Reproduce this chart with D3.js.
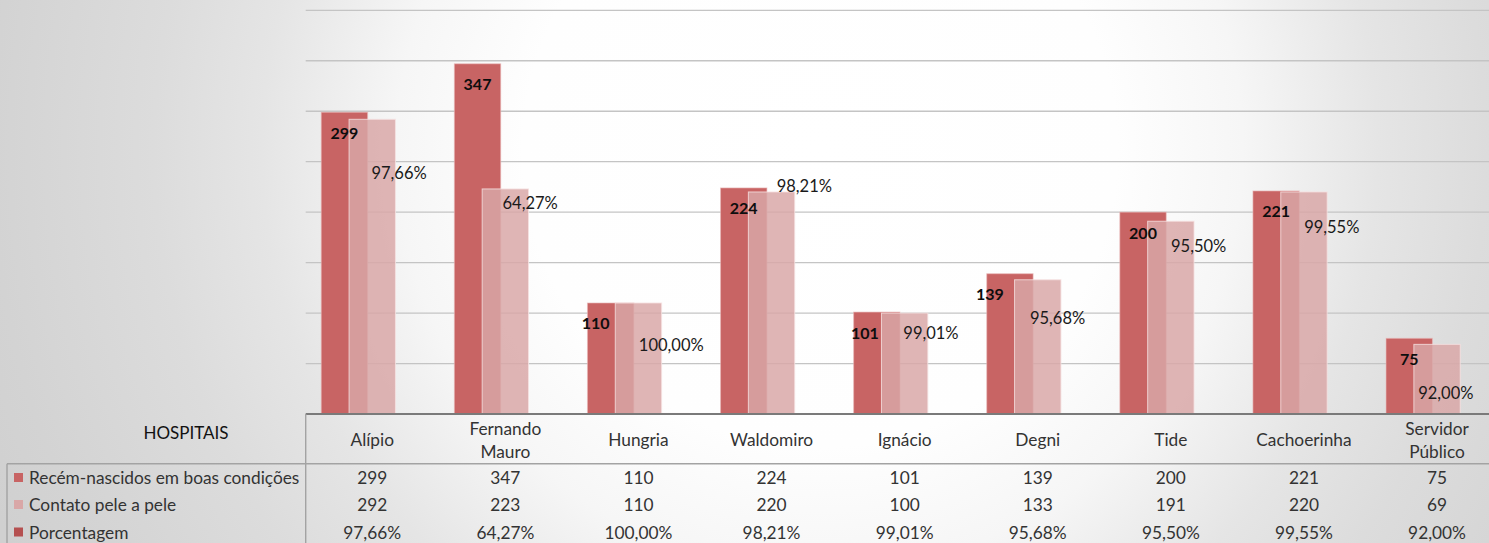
<!DOCTYPE html>
<html>
<head>
<meta charset="utf-8">
<script src="https://cdn.jsdelivr.net/npm/d3@7"></script>
<style>
  html, body { margin: 0; padding: 0; overflow: hidden; }
  svg { display: block; }
  text { font-family: Lato, "Open Sans", sans-serif; }
</style>
</head>
<body>
<svg id="chart" width="1489" height="543"></svg>
<script>
// ---------------- DATA ----------------
const categories = ["Alípio", "Fernando Mauro", "Hungria", "Waldomiro", "Ignácio", "Degni", "Tide", "Cachoerinha", "Servidor Público"];
const recemNascidos = [299, 347, 110, 224, 101, 139, 200, 221, 75];
const contatoPele = [292, 223, 110, 220, 100, 133, 191, 220, 69];
const porcentagem = [97.66, 64.27, 100.00, 98.21, 99.01, 95.68, 95.50, 99.55, 92.00];
const seriesNames = ["Recém-nascidos em boas condições", "Contato pele a pele", "Porcentagem"];
const yTicks = [0, 50, 100, 150, 200, 250, 300, 350, 400];
const tableTitle = "HOSPITAIS";

// ---------------- LAYOUT / STYLE ----------------
const W = 1489, H = 543;
const plotLeft = 305.7, catStep = 133.1;
const plotRight = plotLeft + catStep * categories.length;
const baseY = 414, topY = 10.3;
const gapWidth = 0.67, overlap = 0.40;
const colors = ["#c86464", "#d9a7a7", "#b55050"];
const tableFont = 17.3, labelFont = 16.5;
// manual label nudges (pixels), as in the original chart
const darkLabelDx = [0, 0, -15, 0, -12, -20, 0, 0, 0];
const pctLabelDx = [-1, -3, 5, 5, -1.5, -8, 0, 0, -19];
const pctLabelRise = [241, 211, 69, 228, 81, 96, 168, 187, 21];
const rowY = [477.5, 504.5, 532];

const svg = d3.select("#chart");
const defs = svg.append("defs");
const grad = defs.append("radialGradient")
  .attr("id", "bg").attr("gradientUnits", "userSpaceOnUse")
  .attr("cx", 820).attr("cy", 150).attr("r", 900);
[[0, "#ffffff"], [0.33, "#fefefe"], [0.47, "#f6f6f6"], [0.62, "#e5e5e5"], [0.74, "#dcdcdc"], [0.92, "#d3d3d3"], [1, "#d0d0d0"]]
  .forEach(([o, c]) => grad.append("stop").attr("offset", o).attr("stop-color", c));
svg.append("rect").attr("width", W).attr("height", H).attr("fill", "url(#bg)");

const x = d3.scaleBand().domain(categories).range([plotLeft, plotRight]).padding(0);
const y = d3.scaleLinear().domain([0, 400]).range([baseY, topY]);

// bar geometry from Excel-like gap width / overlap
const nSeries = 3;
const barW = catStep / (nSeries - (nSeries - 1) * overlap + gapWidth);
const barStep = barW * (1 - overlap);
const groupW = barW + (nSeries - 1) * barStep;
const sub = d3.scaleLinear().domain([0, nSeries - 1]).range([0, (nSeries - 1) * barStep]);
const barX = (cat, s) => x(cat) + (catStep - groupW) / 2 + sub(s);

// gridlines
svg.append("g").selectAll("line").data(yTicks.filter(t => t > 0)).join("line")
  .attr("x1", plotLeft).attr("x2", W)
  .attr("y1", d => y(d)).attr("y2", d => y(d))
  .attr("stroke", "#c4c4c4").attr("stroke-width", 1.3);

const seriesVals = [recemNascidos, contatoPele, porcentagem.map(p => p / 100)];
const barsG = svg.append("g");
// percentage series (tiny bars at the baseline)
barsG.selectAll("rect.p").data(categories).join("rect").attr("class", "p")
  .attr("x", (d) => barX(d, 2)).attr("width", barW)
  .attr("y", (d, i) => y(seriesVals[2][i])).attr("height", (d, i) => baseY - y(seriesVals[2][i]))
  .attr("fill", colors[2]);
// dark series
barsG.selectAll("rect.a").data(categories).join("rect").attr("class", "a")
  .attr("x", d => barX(d, 0)).attr("width", barW)
  .attr("y", (d, i) => y(recemNascidos[i])).attr("height", (d, i) => baseY - y(recemNascidos[i]))
  .attr("fill", colors[0]).attr("stroke", "#eab9b9").attr("stroke-opacity", 0.6).attr("stroke-width", 1);
// light series (semi-transparent, overlapping)
barsG.selectAll("rect.b").data(categories).join("rect").attr("class", "b")
  .attr("x", d => barX(d, 1)).attr("width", barW)
  .attr("y", (d, i) => y(contatoPele[i])).attr("height", (d, i) => baseY - y(contatoPele[i]))
  .attr("fill", colors[1]).attr("fill-opacity", 0.84)
  .attr("stroke", "#f6e2e2").attr("stroke-opacity", 0.8).attr("stroke-width", 1);

// data labels
const fmtPct = v => d3.format(".2f")(v).replace(".", ",") + "%";
svg.append("g").selectAll("text").data(categories).join("text")
  .attr("x", (d, i) => barX(d, 0) + barW / 2 + darkLabelDx[i])
  .attr("y", (d, i) => y(recemNascidos[i]) + 20)
  .attr("text-anchor", "middle").attr("dominant-baseline", "central")
  .attr("font-size", 16).attr("font-weight", "bold").attr("fill", "#0d0d0d")
  .text((d, i) => recemNascidos[i]);
svg.append("g").selectAll("text").data(categories).join("text")
  .attr("x", (d, i) => barX(d, 2) + barW / 2 + pctLabelDx[i])
  .attr("y", (d, i) => baseY - pctLabelRise[i])
  .attr("text-anchor", "middle").attr("dominant-baseline", "central")
  .attr("font-size", labelFont).attr("fill", "#1a1a1a")
  .text((d, i) => fmtPct(porcentagem[i]));

// axis line & table lines
svg.append("line").attr("x1", plotLeft).attr("x2", W).attr("y1", baseY).attr("y2", baseY)
  .attr("stroke", "#7a7a7a").attr("stroke-width", 2);
const tl = svg.append("g").attr("stroke", "#a3a3a3").attr("stroke-width", 1.4);
tl.append("line").attr("x1", plotLeft).attr("x2", plotLeft).attr("y1", baseY).attr("y2", H);
tl.append("line").attr("x1", 7).attr("x2", W).attr("y1", 463.8).attr("y2", 463.8);
tl.append("line").attr("x1", 7).attr("x2", 7).attr("y1", 463.8).attr("y2", H);

// header
const textCol = "#333333";
svg.append("text").attr("x", 186).attr("y", 432).attr("text-anchor", "middle")
  .attr("dominant-baseline", "central").attr("font-size", 17).attr("fill", "#111").text(tableTitle);
const hdr = svg.append("g").selectAll("text").data(categories).join("text")
  .attr("text-anchor", "middle").attr("font-size", tableFont).attr("fill", textCol)
  .attr("dominant-baseline", "central");
hdr.each(function (d) {
  const words = d.split(" ");
  const cx = x(d) + catStep / 2;
  const t = d3.select(this);
  if (words.length === 1) {
    t.append("tspan").attr("x", cx).attr("y", 439).text(d);
  } else {
    t.append("tspan").attr("x", cx).attr("y", 428).text(words[0]);
    t.append("tspan").attr("x", cx).attr("y", 450.5).text(words.slice(1).join(" "));
  }
});

// table rows
const rows = [recemNascidos.map(String), contatoPele.map(String), porcentagem.map(fmtPct)];
rows.forEach((vals, r) => {
  svg.append("rect").attr("x", 14).attr("y", rowY[r] - 4.5).attr("width", 9).attr("height", 9).attr("fill", colors[r]);
  svg.append("text").attr("x", 29).attr("y", rowY[r]).attr("dominant-baseline", "central")
    .attr("font-size", tableFont).attr("fill", textCol).text(seriesNames[r]);
  svg.append("g").selectAll("text").data(categories).join("text")
    .attr("x", d => x(d) + catStep / 2).attr("y", rowY[r])
    .attr("text-anchor", "middle").attr("dominant-baseline", "central")
    .attr("font-size", tableFont).attr("fill", textCol)
    .text((d, i) => vals[i]);
});
</script>
</body>
</html>
